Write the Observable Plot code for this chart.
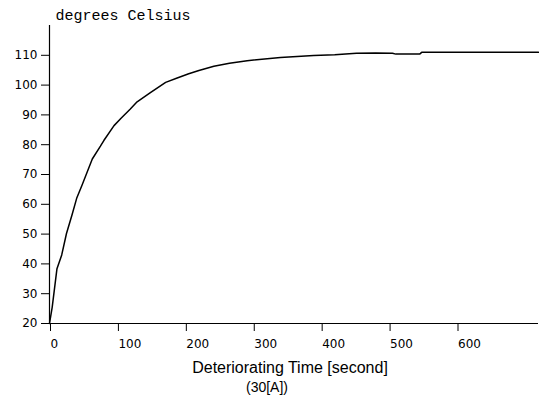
<!DOCTYPE html>
<html>
<head>
<meta charset="utf-8">
<script src="https://cdn.jsdelivr.net/npm/d3@7"></script>
<script src="https://cdn.jsdelivr.net/npm/@observablehq/plot@0.6"></script>
<style>
  html, body { margin: 0; padding: 0; background: #fff; }
</style>
</head>
<body>
<div id="chart"></div>
<script>
const times = [0, 4, 11, 18, 25, 33, 40, 48, 63, 75, 80, 95, 105, 119, 129, 148, 171, 188, 205, 220, 242, 265, 291, 340, 389, 420, 452, 480, 505, 510, 545, 548, 600, 660, 720];
const temps = [20, 25.5, 38.4, 43, 50.2, 56.3, 62, 66.5, 75.2, 79.5, 81.4, 86.4, 88.8, 92, 94.4, 97.4, 100.9, 102.4, 103.8, 104.9, 106.3, 107.3, 108.2, 109.3, 109.9, 110.2, 110.7, 110.8, 110.7, 110.4, 110.4, 111, 111, 111, 111];
const xTicks = [0, 100, 200, 300, 400, 500, 600];
const yTicks = [20, 30, 40, 50, 60, 70, 80, 90, 100, 110];
const yUnit = "degrees Celsius";
const xTitle = "Deteriorating Time [second]";
const caption = "(30[A])";

const data = times.map((t, i) => ({t, T: temps[i]}));

const chart = Plot.plot({
  width: 539,
  height: 408,
  marginLeft: 49,
  marginRight: 1,
  marginTop: 25,
  marginBottom: 85,
  style: {fontFamily: "DejaVu Sans", fontSize: "12px", background: "white", color: "black"},
  x: {domain: [0, 720]},
  y: {domain: [20, 120]},
  marks: [
    Plot.axisY({ticks: yTicks, tickSize: 8, tickPadding: 4, label: null, fontSize: 12}),
    Plot.axisX({ticks: xTicks, tickSize: 8, tickPadding: 8, label: null, textAnchor: "start", dx: 1, fontSize: 12}),
    Plot.ruleX([0], {y1: 20, y2: 120, stroke: "black", strokeWidth: 1.2}),
    Plot.ruleY([20], {stroke: "black", strokeWidth: 1.2}),
    Plot.line(data, {x: "t", y: "T", stroke: "black", strokeWidth: 1.5}),
    Plot.text([yUnit], {frameAnchor: "top-left", dx: 6, dy: -10, textAnchor: "start", lineAnchor: "middle", fontFamily: "Liberation Mono", fontSize: 15}),
    Plot.text([xTitle], {frameAnchor: "bottom", dx: -4, dy: 44, lineAnchor: "middle", fontFamily: "Liberation Sans", fontSize: 16}),
    Plot.text([caption], {frameAnchor: "bottom", dx: -27, dy: 64, lineAnchor: "middle", fontFamily: "Liberation Sans", fontSize: 14})
  ]
});
document.getElementById("chart").appendChild(chart);
</script>
</body>
</html>
